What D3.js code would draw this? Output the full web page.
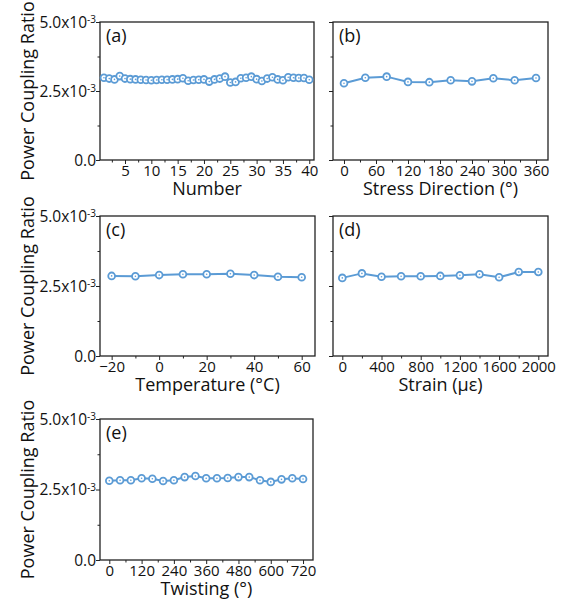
<!DOCTYPE html>
<html><head><meta charset="utf-8">
<script src="https://cdn.jsdelivr.net/npm/d3@7"></script>
<style>
body{margin:0;background:#fff}
svg text{font-family:"Open Sans",sans-serif;fill:#111}
</style>
</head><body>
<svg id="chart" width="572" height="607"></svg>
<script>
// ---- data (power coupling ratio in units of 1e-3) ----
const numberX = [1,2,3,4,5,6,7,8,9,10,11,12,13,14,15,16,17,18,19,20,21,22,23,24,25,26,27,28,29,30,31,32,33,34,35,36,37,38,39,40];
const numberY = [2.98,2.95,2.92,3.04,2.95,2.93,2.92,2.91,2.90,2.89,2.90,2.91,2.91,2.92,2.93,2.96,2.87,2.90,2.91,2.92,2.84,2.92,2.95,3.02,2.81,2.83,2.96,2.98,3.02,2.93,2.86,2.95,3.00,2.92,2.89,3.00,2.98,2.97,2.97,2.91];
const stressX = [0,40,80,120,160,200,240,280,320,360];
const stressY = [2.78,2.98,3.02,2.83,2.82,2.89,2.85,2.96,2.89,2.97];
const tempX = [-20,-10,0,10,20,30,40,50,60];
const tempY = [2.86,2.85,2.89,2.92,2.92,2.94,2.89,2.83,2.81];
const strainX = [0,200,400,600,800,1000,1200,1400,1600,1800,2000];
const strainY = [2.79,2.95,2.83,2.85,2.85,2.86,2.88,2.92,2.81,3.00,3.00];
const twistX = [0,40,80,120,160,200,240,280,320,360,400,440,480,520,560,600,640,680,720];
const twistY = [2.81,2.83,2.83,2.90,2.88,2.80,2.83,2.94,2.98,2.90,2.90,2.91,2.94,2.94,2.83,2.77,2.86,2.90,2.87];

const yTicks = [0, 2.5, 5.0];
const yMinorTicks = [1.25, 3.75];
const numberTicks = [5,10,15,20,25,30,35,40];
const stressTicks = [0,60,120,180,240,300,360];
const tempTicks = [-20,0,20,40,60];
const strainTicks = [0,400,800,1200,1600,2000];
const twistTicks = [0,120,240,360,480,600,720];

const yTitle = "Power Coupling Ratio";
const panelLabels = ["(a)","(b)","(c)","(d)","(e)"];
const xTitles = ["Number","Stress Direction (°)","Temperature (°C)","Strain (με)","Twisting (°)"];

// ---- layout ----
const panels = [
  {x:100, y:22,  w:214, h:138, xd:[0.25,40.9], xs:numberX, ys:numberY, ticks:numberTicks, minorStep:2.5, yLabels:true},
  {x:333, y:22,  w:215, h:138, xd:[-20.6,382.5], xs:stressX, ys:stressY, ticks:stressTicks, minorStep:30, yLabels:false},
  {x:100, y:216, w:215, h:140, xd:[-24.9,65.6], xs:tempX, ys:tempY, ticks:tempTicks, minorStep:10, yLabels:true},
  {x:333, y:216, w:215, h:140, xd:[-95,2099], xs:strainX, ys:strainY, ticks:strainTicks, minorStep:200, yLabels:false},
  {x:100, y:419, w:213, h:141, xd:[-34.6,757], xs:twistX, ys:twistY, ticks:twistTicks, minorStep:60, yLabels:true}
];

const svg = d3.select("#chart");
const blue = "#5b9bd5";

panels.forEach((p, i) => {
  const g = svg.append("g").attr("transform", `translate(${p.x},${p.y})`);
  const x = d3.scaleLinear().domain(p.xd).range([0, p.w]);
  const y = d3.scaleLinear().domain([0, 5]).range([p.h, 0]);

  // minor x ticks
  const minor = [];
  for (let v = p.ticks[0] - p.minorStep; v <= p.xd[1]; v += p.minorStep) {
    if (v >= p.xd[0] && !p.ticks.includes(v)) minor.push(v);
  }
  g.append("g").attr("transform", `translate(0,${p.h})`)
    .call(d3.axisBottom(x).tickValues(minor).tickSize(2.5).tickFormat(""))
    .call(a => a.select(".domain").remove())
    .call(a => a.selectAll("line").attr("stroke", "#222").attr("stroke-width", 1));
  g.append("g").attr("transform", `translate(0,${p.h})`)
    .call(d3.axisBottom(x).tickValues(p.ticks).tickSize(4).tickPadding(1.2).tickFormat(d3.format("d")))
    .call(a => a.select(".domain").remove())
    .call(a => a.selectAll("line").attr("stroke", "#222").attr("stroke-width", 1))
    .call(a => a.selectAll("text").style("font-size", "15px").attr("fill", "#111"));

  // y ticks
  g.append("g")
    .call(d3.axisLeft(y).tickValues(yMinorTicks).tickSize(2.5).tickFormat(""))
    .call(a => a.select(".domain").remove())
    .call(a => a.selectAll("line").attr("stroke", "#222").attr("stroke-width", 1));
  const ya = g.append("g")
    .call(d3.axisLeft(y).tickValues(yTicks).tickSize(4).tickPadding(1).tickFormat(""))
    .call(a => a.select(".domain").remove())
    .call(a => a.selectAll("line").attr("stroke", "#222").attr("stroke-width", 1));
  if (p.yLabels) {
    ya.selectAll(".tick").each(function(d) {
      const t = d3.select(this).append("text")
        .attr("x", -4).attr("dy", "0.35em")
        .attr("text-anchor", "end").style("font-size", "15.5px").attr("fill", "#111");
      if (d === 0) {
        t.text("0.0");
      } else {
        t.append("tspan").text(d.toFixed(1) + "x10");
        t.append("tspan").attr("dy", "-0.45em").style("font-size", "10px").text("-3");
      }
    });
    // y title
    svg.append("text")
      .attr("transform", `translate(${p.x - 66},${p.y + p.h / 2}) rotate(-90)`)
      .attr("text-anchor", "middle")
      .style("font-size", "18px")
      .text(yTitle);
  }

  // frame
  g.append("rect").attr("width", p.w).attr("height", p.h)
    .attr("fill", "none").attr("stroke", "#222").attr("stroke-width", 1.3);

  // line + markers
  const pts = p.xs.map((v, k) => [v, p.ys[k]]);
  g.append("path").datum(pts)
    .attr("fill", "none").attr("stroke", blue).attr("stroke-width", 2)
    .attr("d", d3.line().x(d => x(d[0])).y(d => y(d[1])));
  g.selectAll("circle.m").data(pts).join("circle").attr("class", "m")
    .attr("cx", d => x(d[0])).attr("cy", d => y(d[1])).attr("r", 3.4)
    .attr("fill", "#fff").attr("stroke", blue).attr("stroke-width", 1.8);
  g.selectAll("circle.c").data(pts).join("circle").attr("class", "c")
    .attr("cx", d => x(d[0])).attr("cy", d => y(d[1])).attr("r", 0.8)
    .attr("fill", blue);

  // panel label
  g.append("text").attr("x", 6).attr("y", 20).style("font-size", "18px").text(panelLabels[i]);
  // x title
  g.append("text").attr("x", p.w / 2).attr("y", p.h + 35)
    .attr("text-anchor", "middle").style("font-size", "18px").text(xTitles[i]);
});
</script>
</body></html>
